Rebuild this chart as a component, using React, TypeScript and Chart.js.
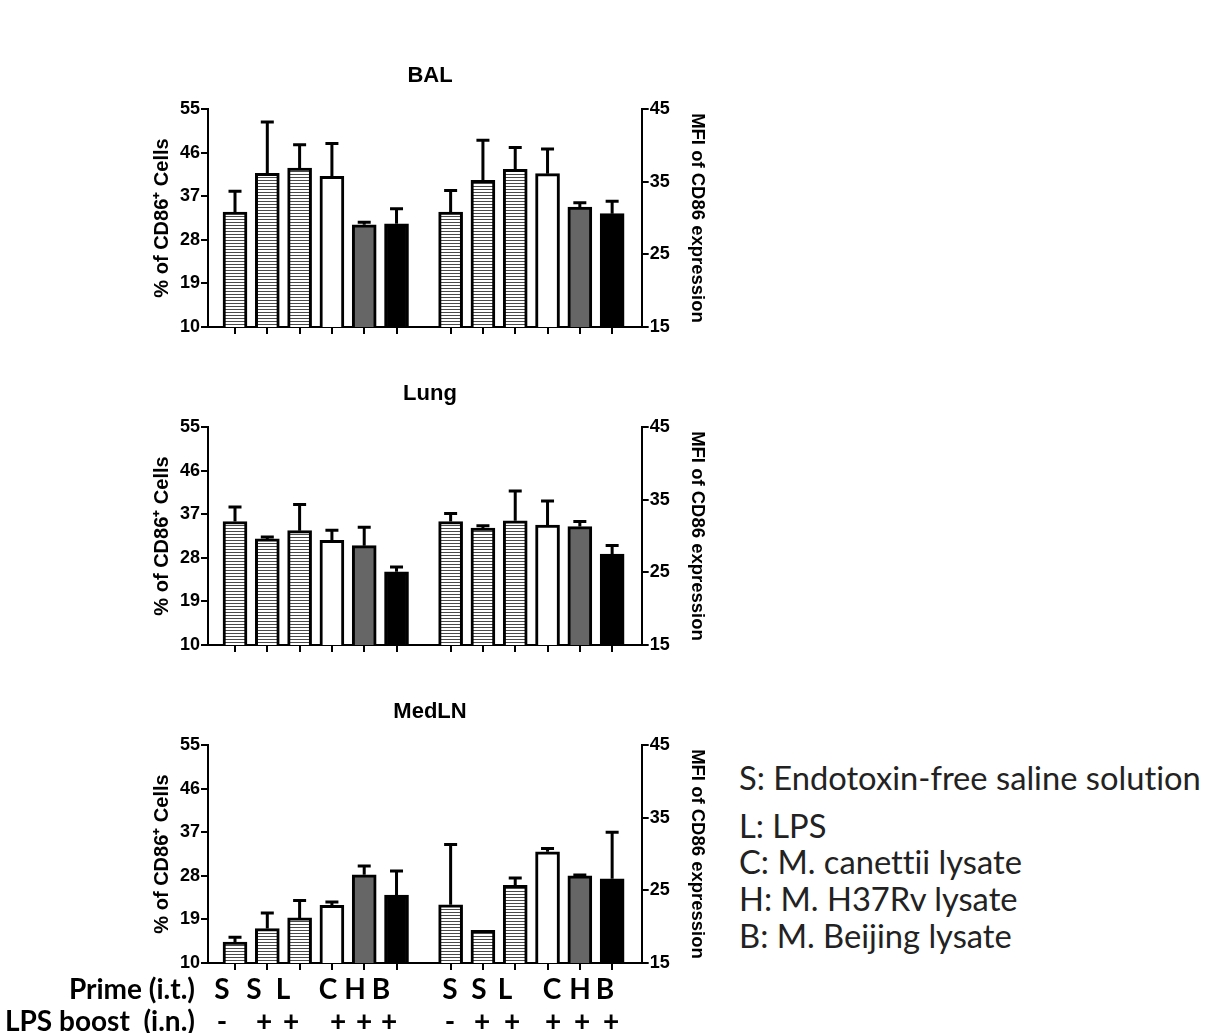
import React, { useEffect, useRef } from 'react';
import { Chart, registerables } from 'chart.js';

Chart.register(...registerables);

// ---------- data ----------
const primeLabels = ['S', 'S', 'L', 'C', 'H', 'B'];
const boostLabels = ['-', '+', '+', '+', '+', '+'];
const fillKinds = ['hatch', 'hatch', 'hatch', 'white', 'gray', 'black'];
const group1X = [1, 2, 3, 4, 5, 6];
const group2X = [7.675, 8.675, 9.675, 10.675, 11.675, 12.675];

const percentTicks = [10, 19, 28, 37, 46, 55];
const mfiTicks = [15, 25, 35, 45];

const balPercent = [33.7, 41.7, 42.8, 41.1, 31.1, 31.3];
const balPercentErr = [4.3, 10.6, 4.8, 6.8, 0.5, 3.1];
const balMfi = [30.8, 35.2, 36.7, 36.1, 31.5, 30.6];
const balMfiErr = [3.0, 5.5, 3.0, 3.4, 0.6, 1.7];

const lungPercent = [35.5, 31.9, 33.6, 31.6, 30.5, 25.1];
const lungPercentErr = [3.0, 0.4, 5.4, 2.1, 3.8, 1.0];
const lungMfi = [32.0, 31.1, 32.1, 31.5, 31.3, 27.5];
const lungMfiErr = [1.1, 0.3, 4.1, 3.3, 0.7, 1.2];

const medlnPercent = [14.3, 17.1, 19.3, 21.9, 28.2, 24.0];
const medlnPercentErr = [1.0, 3.2, 3.6, 0.7, 1.8, 5.0];
const medlnMfi = [23.0, 19.5, 25.7, 30.3, 27.0, 26.6];
const medlnMfiErr = [8.3, 0, 1.0, 0.45, 0.1, 6.4];

const legendLines = [
  'S: Endotoxin-free saline solution',
  'L: LPS',
  'C: M. canettii lysate',
  'H: M. H37Rv lysate',
  'B: M. Beijing lysate',
];

// ---------- layout constants ----------
const primeX1 = [222, 254, 283, 328, 355, 381];
const primeX2 = [450, 479, 505, 552, 580, 605];
const boostX1 = [222, 264, 291, 338, 364, 389];
const boostX2 = [450, 482, 512, 553, 582, 611];
const legendY = [778, 826, 862, 899, 936];

const AX_FONT = '"Liberation Sans", Arial, sans-serif';

function Panel(props: {
  title: string;
  pct: number[];
  pctErr: number[];
  mfi: number[];
  mfiErr: number[];
  top: number;
}) {
  const ref = useRef<HTMLCanvasElement>(null);
  useEffect(() => {
    const canvas = ref.current!;
    const ctx = canvas.getContext('2d')!;
    const pc = document.createElement('canvas');
    pc.width = 6;
    pc.height = 3;
    const pctx = pc.getContext('2d')!;
    pctx.fillStyle = '#ffffff';
    pctx.fillRect(0, 0, 6, 3);
    pctx.fillStyle = '#4a4a4a';
    pctx.fillRect(0, 0, 6, 1);
    const hatch = ctx.createPattern(pc, 'repeat');
    const fillFor = (k: string) =>
      k === 'hatch' ? hatch : k === 'white' ? '#ffffff' : k === 'gray' ? '#666666' : '#000000';
    const colors = fillKinds.map(fillFor);

    const errorBars = {
      id: 'errorBars',
      afterDatasetsDraw(chart: any) {
        const c = chart.ctx;
        chart.data.datasets.forEach((ds: any, di: number) => {
          const meta = chart.getDatasetMeta(di);
          const ys = chart.scales[ds.yAxisID];
          meta.data.forEach((bar: any, i: number) => {
            const v = ds.data[i].y;
            const e = ds.errors[i];
            if (!e || e <= 0) return;
            const yBase = ys.getPixelForValue(v);
            const yTop = ys.getPixelForValue(v + e);
            c.save();
            c.strokeStyle = '#000';
            c.lineWidth = 3;
            c.beginPath();
            c.moveTo(bar.x, yBase);
            c.lineTo(bar.x, yTop);
            c.moveTo(bar.x - 6.5, yTop);
            c.lineTo(bar.x + 6.5, yTop);
            c.stroke();
            c.restore();
          });
        });
      },
    };

    const tickFont = { family: AX_FONT, weight: 'bold' as const, size: 18 };

    const chart = new Chart(ctx, {
      type: 'bar',
      data: {
        datasets: [
          {
            data: group1X.map((x, i) => ({ x, y: props.pct[i] })),
            yAxisID: 'y',
            errors: props.pctErr,
            backgroundColor: colors,
            borderColor: '#000',
            borderWidth: 3,
            borderSkipped: false,
            barThickness: 24,
            grouped: false,
          } as any,
          {
            data: group2X.map((x, i) => ({ x, y: props.mfi[i] })),
            yAxisID: 'y1',
            errors: props.mfiErr,
            backgroundColor: colors,
            borderColor: '#000',
            borderWidth: 3,
            borderSkipped: false,
            barThickness: 24,
            grouped: false,
          } as any,
        ],
      },
      options: {
        animation: false,
        responsive: false,
        maintainAspectRatio: false,
        layout: { padding: { left: 0, right: 0, top: 0, bottom: 6 } },
        plugins: {
          legend: { display: false },
          tooltip: { enabled: false },
          title: {
            display: true,
            text: props.title,
            color: '#000',
            font: { family: AX_FONT, weight: 'bold', size: 22 },
            padding: { top: 2.8, bottom: 19.8 },
          },
        },
        scales: {
          x: {
            type: 'linear',
            min: 0.164,
            max: 13.59,
            offset: false,
            grid: {
              display: true,
              offset: false,
              drawOnChartArea: false,
              drawTicks: true,
              tickLength: 7,
              color: '#000',
              lineWidth: 2,
            },
            border: { display: true, color: '#000', width: 2 },
            ticks: { display: false },
            afterBuildTicks: (s: any) => {
              s.ticks = [...group1X, ...group2X].map((v) => ({ value: v }));
            },
            afterFit: (s: any) => {
              s.height = 7;
            },
          },
          y: {
            type: 'linear',
            position: 'left',
            min: 10,
            max: 55,
            afterBuildTicks: (s: any) => {
              s.ticks = percentTicks.map((v) => ({ value: v }));
            },
            ticks: { font: tickFont, color: '#000', padding: 1 },
            grid: { drawOnChartArea: false, tickLength: 7, color: '#000', lineWidth: 2 },
            border: { display: true, color: '#000', width: 2 },
            title: {
              display: true,
              text: '% of CD86⁺ Cells',
              color: '#000',
              font: { family: AX_FONT, weight: 'bold', size: 20 },
              padding: { top: 10, bottom: 0 },
            },
            afterFit: (s: any) => {
              s.width = 68;
            },
          },
          y1: {
            type: 'linear',
            position: 'right',
            min: 15,
            max: 45,
            afterBuildTicks: (s: any) => {
              s.ticks = mfiTicks.map((v) => ({ value: v }));
            },
            ticks: { font: tickFont, color: '#000', padding: 1 },
            grid: { drawOnChartArea: false, tickLength: 7, color: '#000', lineWidth: 2 },
            border: { display: true, color: '#000', width: 2 },
            title: {
              display: true,
              text: 'MFI of CD86 expression',
              color: '#000',
              font: { family: AX_FONT, weight: 'bold', size: 18.5 },
              padding: { top: 11.9, bottom: 0 },
            },
            afterFit: (s: any) => {
              s.width = 78.3;
            },
          },
        },
      } as any,
      plugins: [errorBars],
    });
    return () => chart.destroy();
  }, []);
  return (
    <canvas
      ref={ref}
      width={580}
      height={280}
      style={{ position: 'absolute', left: 140, top: props.top, width: 580, height: 280 }}
    />
  );
}

const rowText: React.CSSProperties = {
  position: 'absolute',
  fontFamily: 'Lato, sans-serif',
  fontWeight: 700,
  fontSize: 28,
  lineHeight: '30px',
  height: 30,
  color: '#000',
  whiteSpace: 'nowrap',
};

export default function App() {
  return (
    <div
      style={{
        position: 'absolute',
        left: 0,
        top: 0,
        width: 1205,
        height: 1033,
        overflow: 'hidden',
        background: '#fff',
      }}
    >
      <Panel title="BAL" pct={balPercent} pctErr={balPercentErr} mfi={balMfi} mfiErr={balMfiErr} top={60} />
      <Panel title="Lung" pct={lungPercent} pctErr={lungPercentErr} mfi={lungMfi} mfiErr={lungMfiErr} top={378} />
      <Panel title="MedLN" pct={medlnPercent} pctErr={medlnPercentErr} mfi={medlnMfi} mfiErr={medlnMfiErr} top={696} />

      <div style={{ ...rowText, left: 0, width: 195, textAlign: 'right', top: 973 }}>Prime (i.t.)</div>
      <div style={{ ...rowText, left: 0, width: 195, textAlign: 'right', top: 1005 }}>LPS boost&nbsp; (i.n.)</div>
      {primeLabels.map((t, i) => (
        <div key={'p1' + i} style={{ ...rowText, left: primeX1[i], top: 973, transform: 'translateX(-50%)' }}>{t}</div>
      ))}
      {primeLabels.map((t, i) => (
        <div key={'p2' + i} style={{ ...rowText, left: primeX2[i], top: 973, transform: 'translateX(-50%)' }}>{t}</div>
      ))}
      {boostLabels.map((t, i) => (
        <div key={'b1' + i} style={{ ...rowText, left: boostX1[i], top: 1005, transform: 'translateX(-50%)' }}>{t}</div>
      ))}
      {boostLabels.map((t, i) => (
        <div key={'b2' + i} style={{ ...rowText, left: boostX2[i], top: 1005, transform: 'translateX(-50%)' }}>{t}</div>
      ))}

      {legendLines.map((t, i) => (
        <div
          key={'l' + i}
          style={{
            position: 'absolute',
            left: 739,
            top: legendY[i] - 20,
            height: 40,
            lineHeight: '40px',
            fontFamily: 'Lato, sans-serif',
            fontSize: 32.7,
            fontVariantLigatures: 'none',
            color: '#222',
            whiteSpace: 'nowrap',
          }}
        >
          {t}
        </div>
      ))}
    </div>
  );
}
